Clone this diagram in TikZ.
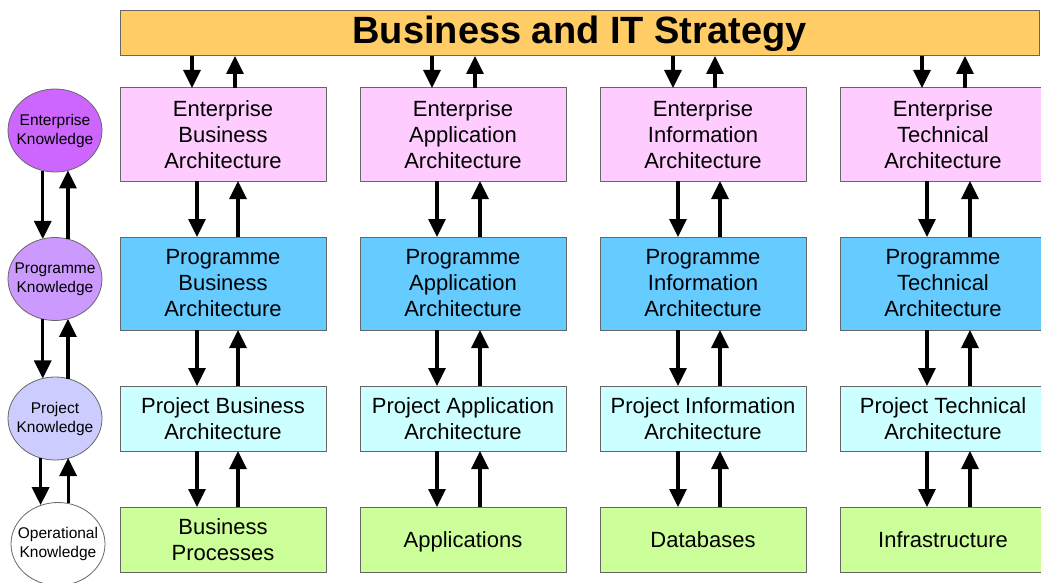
\documentclass[tikz,border=0pt]{standalone}
\usepackage{fontspec}
\setmainfont{Liberation Sans}
\usetikzlibrary{arrows.meta,shapes.geometric,calc}
\definecolor{barfill}{HTML}{FFCC66}
\definecolor{entfill}{HTML}{FFCCFF}
\definecolor{progfill}{HTML}{66CCFF}
\definecolor{projfill}{HTML}{CCFFFF}
\definecolor{opfill}{HTML}{CCFF99}
\definecolor{ekfill}{HTML}{CC66FF}
\definecolor{pkfill}{HTML}{CC99FF}
\definecolor{jkfill}{HTML}{CCCCFF}
\definecolor{edge}{HTML}{666666}
\tikzset{
  box/.style={draw=edge, line width=1pt, anchor=north west, minimum width=206pt,
    inner sep=0pt, outer sep=0pt, align=center, font=\fontsize{22}{26}\selectfont},
  oneline/.style={text height=16pt, text depth=0pt},
  know/.style={ellipse, draw=edge, line width=0.8pt, minimum width=94pt, minimum height=83pt,
    inner sep=0pt, outer sep=0pt},
  knowtext/.style={align=center, inner sep=0pt, font=\fontsize{15.5}{19}\selectfont},
  arr/.style={line width=3.2pt, -{Triangle[length=18pt,width=17pt]}}
}
\begin{document}
\begin{tikzpicture}[x=1pt,y=-1pt]
\useasboundingbox (0,0) rectangle (1041,583);
% top bar
\node[draw=edge, line width=1pt, fill=barfill, anchor=north west, minimum width=919pt, minimum height=45pt,
  inner sep=0pt, outer sep=0pt, font=\bfseries\fontsize{38}{40}\selectfont] (bar) at (120,11) {Business and IT Strategy};
% columns
\foreach \c/\x/\a in {1/120/Business, 2/360/Application, 3/600/Information, 4/840/Technical}{
  \node[box, fill=entfill, minimum height=93pt] (e\c) at (\x,88) {Enterprise\\\a\\Architecture};
  \node[box, fill=progfill, minimum height=93pt] (p\c) at (\x,237) {Programme\\\a\\Architecture};
  \node[box, fill=projfill, minimum height=65pt] (j\c) at (\x,386) {Project \a\\Architecture};
}
\node[box, fill=opfill, minimum height=65pt] (o1) at (120,507) {Business\\Processes};
\node[box, oneline, fill=opfill, minimum height=65pt] (o2) at (360,507) {Applications};
\node[box, oneline, fill=opfill, minimum height=65pt] (o3) at (600,507) {Databases};
\node[box, oneline, fill=opfill, minimum height=65pt] (o4) at (840,507) {Infrastructure};
% arrows
\foreach \c/\d/\u/\td/\tu in {1/77/118/72/115, 2/77/120/72/115, 3/78/120/73/115, 4/87/130/82/125}{
  \draw[arr] ($(bar.south west -| e\c.north west)+(\td,0)$) -- ($(e\c.north west)+(\td,0)$);
  \draw[arr] ($(e\c.north west)+(\tu,0)$) -- ($(bar.south west -| e\c.north west)+(\tu,0)$);
  \draw[arr] ($(e\c.south west)+(\d,0)$) -- ($(p\c.north west)+(\d,0)$);
  \draw[arr] ($(p\c.north west)+(\u,0)$) -- ($(e\c.south west)+(\u,0)$);
  \draw[arr] ($(p\c.south west)+(\d,0)$) -- ($(j\c.north west)+(\d,0)$);
  \draw[arr] ($(j\c.north west)+(\u,0)$) -- ($(p\c.south west)+(\u,0)$);
  \draw[arr] ($(j\c.south west)+(\d,0)$) -- ($(o\c.north west)+(\d,0)$);
  \draw[arr] ($(o\c.north west)+(\u,0)$) -- ($(j\c.south west)+(\u,0)$);
}
% knowledge ellipses
\node[know, fill=ekfill] (k1) at (55,130.5) {};
\node[know, fill=pkfill] (k2) at (55,279) {};
\node[know, fill=jkfill] (k3) at (55,418.5) {};
\node[know, fill=white] (k4) at (58,544) {};
\node[knowtext] (t1) at (k1.center) {Enterprise\\Knowledge};
\node[knowtext] (t2) at (k2.center) {Programme\\Knowledge};
\node[knowtext] (t3) at (k3.center) {Project\\Knowledge};
\node[knowtext] (t4) at (k4.center) {Operational\\Knowledge};
\draw[arr] (k1.-107) -- (k1.-107 |- k2.107);
\draw[arr] (k2.72) -- (k2.72 |- k1.-72);
\draw[arr] (k2.-107) -- (k2.-107 |- k3.107);
\draw[arr] (k3.72) -- (k3.72 |- k2.-72);
\draw[arr] (k3.-110) -- (k3.-110 |- k4.113);
\draw[arr] (k4.76) -- (k4.76 |- k3.-70);
\end{tikzpicture}
\end{document}
